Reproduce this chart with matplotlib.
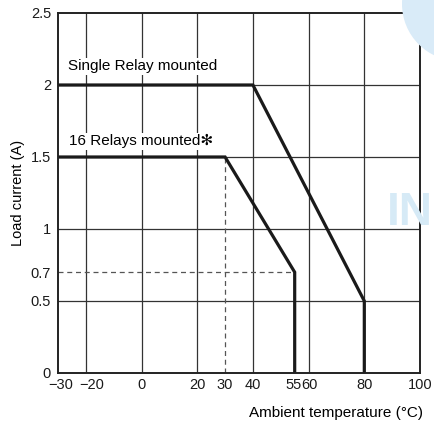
import matplotlib
matplotlib.use("Agg")
import matplotlib.pyplot as plt
from matplotlib.patches import Ellipse
from matplotlib.transforms import ScaledTranslation

plt.rcParams['font.family'] = ['Liberation Sans', 'DejaVu Sans']

# derating curves (ambient temperature in degC, load current in A)
single_t = [-30, 40, 80, 80]
single_i = [2, 2, 0.5, 0]
multi_t = [-30, 30, 55, 55]
multi_i = [1.5, 1.5, 0.7, 0]

xticks = [-30, -20, 0, 20, 30, 40, 55, 60, 80, 100]
yticks = [0, 0.5, 0.7, 1, 1.5, 2, 2.5]
ylabels = ['0', '0.5', '0.7', '1', '1.5', '2', '2.5']
xgrid = [-20, 0, 20, 40, 60, 80]
ygrid = [0.5, 1, 1.5, 2]

W, H = 434, 426
fig = plt.figure(figsize=(W / 100, H / 100), dpi=100)
ax = fig.add_axes([58/W, 53/H, 362/W, 360/H])

# watermark bits (light blue logo edge and letters)
fig.patches.append(Ellipse((459/W, 422/H), 2*57/W, 2*57/H, transform=fig.transFigure,
                           fc='#d9ebf8', ec='none', zorder=0))
fig.text(387/W, 213/H, 'IN', color='#d6eaf6', fontsize=33, fontweight='bold',
         va='center', ha='left', zorder=0)

ax.set_xlim(-30, 100)
ax.set_ylim(0, 2.5)
ax.patch.set_alpha(0)

for x in xgrid:
    ax.axvline(x, color='#333333', lw=0.9, zorder=1)
for y in ygrid:
    ax.axhline(y, color='#333333', lw=0.9, zorder=1)

ax.plot([-30, 55], [0.7, 0.7], ls=(0, (4, 3)), color='#555555', lw=0.9, zorder=2)
ax.plot([30, 30], [0, 1.5], ls=(0, (4, 3)), color='#555555', lw=0.9, zorder=2)

ax.plot(single_t, single_i, color='#1a1a1a', lw=2.3, zorder=3, solid_joinstyle='miter')
ax.plot(multi_t, multi_i, color='#1a1a1a', lw=2.3, zorder=3, solid_joinstyle='miter')

box = dict(fc='white', ec='none', pad=1)
ax.text(-26.5, 2.08, 'Single Relay mounted', fontsize=11, va='bottom', bbox=box, zorder=2.5)
ax.text(-26, 1.56, '16 Relays mounted✻', fontsize=11, va='bottom', bbox=box, zorder=2.5)

ax.set_xticks(xticks)
ax.set_yticks(yticks)
ax.set_yticklabels(ylabels)
ax.tick_params(length=0, labelsize=10.5, colors='#1a1a1a')
ax.tick_params(axis='y', pad=5)
ax.tick_params(axis='x', pad=3.5)

# the negative labels sit a little to the right in the reference
labs = ax.get_xticklabels()
labs[0].set_transform(labs[0].get_transform() + ScaledTranslation(3/100, 0, fig.dpi_scale_trans))
labs[1].set_transform(labs[1].get_transform() + ScaledTranslation(6/100, 0, fig.dpi_scale_trans))
# and 55 / 60 are pushed slightly apart
labs[6].set_transform(labs[6].get_transform() + ScaledTranslation(-1/100, 0, fig.dpi_scale_trans))
labs[7].set_transform(labs[7].get_transform() + ScaledTranslation(1/100, 0, fig.dpi_scale_trans))

for s in ax.spines.values():
    s.set_linewidth(1.4)
    s.set_color('#222222')
    s.set_zorder(4)

ax.set_ylabel('Load current (A)', fontsize=10.5, labelpad=4)
fig.text(423/W, 6/H, 'Ambient temperature (°C)', fontsize=11, ha='right', va='bottom')

fig.savefig('out.png', dpi=100)
